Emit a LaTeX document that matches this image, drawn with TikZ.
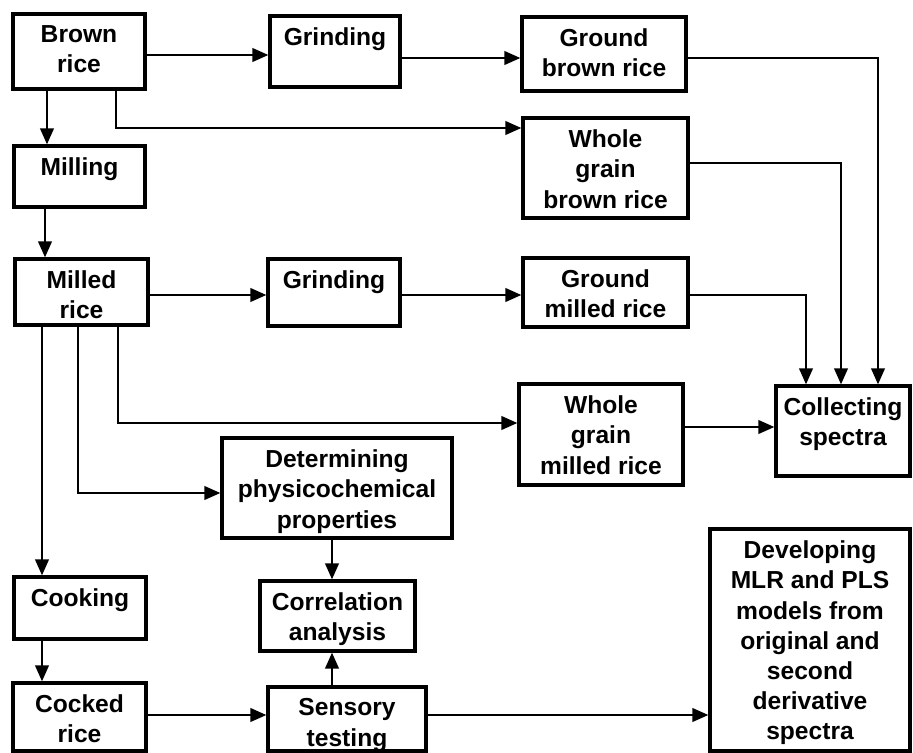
\documentclass[tikz,border=0pt]{standalone}
\usepackage{fontspec}
\setmainfont{Liberation Sans}
\usetikzlibrary{arrows.meta,fit}
\tikzset{
  box/.style={draw, line width=1.8pt, inner sep=0pt, rectangle},
  txt/.style={font=\fontsize{14}{17.2}\selectfont\bfseries, align=center, inner sep=0pt, anchor=north},
  conn/.style={line width=1.3pt},
  arr/.style={conn, -{Triangle[length=0.32cm,width=0.27cm]}},
}
\newcommand\mybox[6]{%
  \node[box, fit={(#2,#3) (#4,#5)}] (#1) {};
  \node[txt] (#1-t) at ([yshift=-0.26cm]#1.north) {#6};}
\begin{document}
\begin{tikzpicture}[x=0.02cm,y=-0.02cm]
\useasboundingbox (0,0) rectangle (913,753);
\mybox{brown}{13}{14}{145}{89}{Brown\\rice}
\mybox{grind1}{270}{16}{400}{87}{Grinding}
\mybox{gbr}{522}{17}{686}{91}{Ground\\brown rice}
\mybox{wgbr}{523}{118}{688}{218}{Whole\\grain\\brown rice}
\mybox{milling}{14}{146}{145}{207}{Milling}
\mybox{milled}{15}{259}{148}{325}{Milled\\rice}
\mybox{grind2}{268}{259}{400}{326}{Grinding}
\mybox{gmr}{523}{258}{688}{327}{Ground\\milled rice}
\mybox{wgmr}{519}{384}{683}{485}{Whole\\grain\\milled rice}
\mybox{coll}{776}{386}{910}{476}{Collecting\\spectra}
\mybox{det}{222}{438}{452}{538}{Determining\\physicochemical\\properties}
\mybox{corr}{260}{581}{415}{651}{Correlation\\analysis}
\mybox{cooking}{14}{577}{146}{639}{Cooking}
\mybox{cocked}{13}{683}{146}{751}{Cocked\\rice}
\mybox{sens}{268}{687}{426}{751}{Sensory\\testing}
\mybox{dev}{710}{529}{910}{751}{Developing\\MLR and PLS\\models from\\original and\\second\\derivative\\spectra}

\coordinate (rA) at (0,55);
\coordinate (rA2) at (0,58);
\coordinate (rB) at (0,128);
\coordinate (rC) at (0,295);
\coordinate (rD) at (0,163);
\coordinate (rE) at (0,423);
\coordinate (rF) at (0,427);
\coordinate (rG) at (0,493);
\coordinate (rH) at (0,715);
\coordinate (cA) at (47,0);
\coordinate (cB) at (116,0);
\coordinate (cC) at (45,0);
\coordinate (cD) at (42,0);
\coordinate (cE) at (118,0);
\coordinate (cF) at (78,0);
\coordinate (cG) at (332,0);
\coordinate (c1) at (806,0);
\coordinate (c2) at (841,0);
\coordinate (c3) at (878,0);

\draw[arr] (brown.east|-rA) -- (grind1.west|-rA);
\draw[arr] (grind1.east|-rA2) -- (gbr.west|-rA2);
\draw[arr] (brown.south-|cA) -- (milling.north-|cA);
\draw[arr] (brown.south-|cB) |- (wgbr.west|-rB);
\draw[arr] (milling.south-|cC) -- (milled.north-|cC);
\draw[arr] (milled.east|-rC) -- (grind2.west|-rC);
\draw[arr] (grind2.east|-rC) -- (gmr.west|-rC);
\draw[arr] (gbr.east|-rA2) -| (coll.north-|c3);
\draw[arr] (wgbr.east|-rD) -| (coll.north-|c2);
\draw[arr] (gmr.east|-rC) -| (coll.north-|c1);
\draw[arr] (milled.south-|cD) -- (cooking.north-|cD);
\draw[arr] (milled.south-|cE) |- (wgmr.west|-rE);
\draw[arr] (wgmr.east|-rF) -- (coll.west|-rF);
\draw[arr] (milled.south-|cF) |- (det.west|-rG);
\draw[arr] (det.south-|cG) -- (corr.north-|cG);
\draw[arr] (sens.north-|cG) -- (corr.south-|cG);
\draw[arr] (cooking.south-|cD) -- (cocked.north-|cD);
\draw[arr] (cocked.east|-rH) -- (sens.west|-rH);
\draw[arr] (sens.east|-rH) -- (dev.west|-rH);
\end{tikzpicture}
\end{document}
